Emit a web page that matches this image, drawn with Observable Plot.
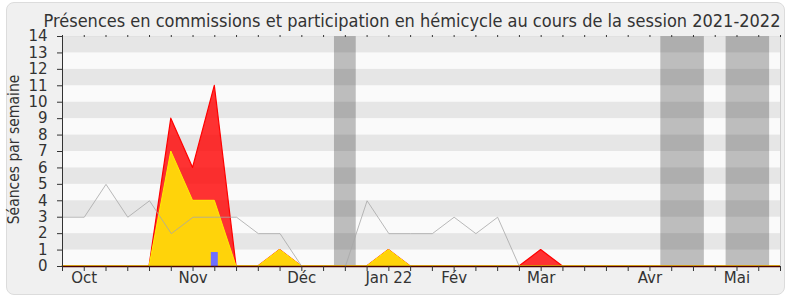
<!DOCTYPE html>
<html>
<head>
<meta charset="utf-8">
<script src="https://cdn.jsdelivr.net/npm/d3@7"></script>
<script src="https://cdn.jsdelivr.net/npm/@observablehq/plot@0.6"></script>
<style>
  html, body { margin: 0; padding: 0; background: #fff; }
  #wrap { position: relative; width: 790px; height: 300px; }
  #box { position: absolute; left: 6px; top: 2px; width: 777px; height: 291px;
         background: #f0f0f0; border: 1px solid #dcdcdc; border-radius: 8px; }
  #chart { position: absolute; left: 0; top: 0; }
  #chart svg { background: transparent !important; }
  #chart svg g[aria-label$="tick label"] { font-family: 'DejaVu Sans', sans-serif; font-stretch: normal; }
</style>
</head>
<body>
<div id="wrap"><div id="box"></div><div id="chart"></div></div>
<script>
// Week indices of the session (one tick per week)
const weeks = d3.range(0, 34);
// Month labels and the week index where they sit
const monthLabels = ["Oct", "Nov", "Déc", "Jan 22", "Fév", "Mar", "Avr", "Mai"];
const monthWeeks  = [1, 6, 11, 15, 18, 22, 27, 31];
// Series (per week)
const presenceCommission = [0,0,0,0,0,9,6,11,0,0,1,0,0,0,0,1,0,0,0,0,0,0,1,0,0,0,0,0,0,0,0,0,0,0];
const interventionCommission = [0,0,0,0,0,7,4,4,0,0,1,0,0,0,0,1,0,0,0,0,0,0,0,0,0,0,0,0,0,0,0,0,0,0];
const participationHemicycle = [3,3,5,3,4,2,3,3,3,2,2,0,0,0,4,2,2,2,3,2,3,0,0,0,0,0,0,0,0,0,0,0,0,0];
// Questions (blue bar)
const questionWeeks = [7];
const questionValues = [0.85];
// Vacation periods (first week, last week) -> grey bands
const vacationStart = [13, 28, 31];
const vacationEnd   = [13, 29, 32];
// y ticks and shaded horizontal bands
const yTicks = d3.range(0, 15);
const darkBands = [1, 3, 5, 7, 9, 11, 13];

const title = "Présences en commissions et participation en hémicycle au cours de la session 2021-2022";
const yLabel = "Séances par semaine";

const series = weeks.map((w, i) => ({
  week: w,
  red: presenceCommission[i],
  yellow: interventionCommission[i],
  gray: participationHemicycle[i]
}));
const questions = questionWeeks.map((w, i) => ({week: w, value: questionValues[i]}));
const vacations = vacationStart.map((s, i) => ({start: s, end: vacationEnd[i]}));
const labelMap = new Map(monthWeeks.map((w, i) => [w, monthLabels[i]]));

const font = "'DejaVu Sans Condensed', 'DejaVu Sans', sans-serif";

const chart = Plot.plot({
  width: 790,
  height: 300,
  marginLeft: 62,
  marginRight: 10,
  marginTop: 36,
  marginBottom: 34,
  style: {fontFamily: font, fontStretch: "condensed", color: "#333", background: "transparent", overflow: "visible"},
  x: {domain: [weeks[0], weeks[weeks.length - 1]]},
  y: {domain: [yTicks[0], yTicks[yTicks.length - 1]]},
  marks: [
    Plot.frame({fill: "#fafafa"}),
    Plot.rect(vacations, {x1: d => d.start - 0.5, x2: d => d.end + 0.5, fill: "#bdbdbd"}),
    Plot.rect(darkBands, {y1: d => d, y2: d => d + 1, fill: "#000", fillOpacity: 0.08}),
    Plot.areaY(series, {x: "week", y: "red", fill: "#ff0000", fillOpacity: 0.8, stroke: "#ff0000", strokeWidth: 1.2}),
    Plot.areaY(series, {x: "week", y: "yellow", fill: "#ffd30a", stroke: "#ffee00", strokeWidth: 1}),
    Plot.rect(questions, {x1: d => d.week - 0.16, x2: d => d.week + 0.16, y1: 0, y2: "value", fill: "#6e6eff"}),
    Plot.lineY(series, {x: "week", y: "gray", stroke: "#a8a8a8", strokeOpacity: 0.8, strokeWidth: 1}),
    Plot.ruleY([yTicks[0]], {stroke: "#4a0000", strokeWidth: 1.3}),
    Plot.ruleX([weeks[0]], {stroke: "#333"}),
    Plot.ruleX([weeks[weeks.length - 1]], {stroke: "#cfcfcf"}),
    Plot.axisY({ticks: yTicks, tickSize: 5, tickPadding: 10, fontSize: 15, label: null, tickFormat: d => String(d)}),
    Plot.axisX({ticks: weeks, tickSize: 5, tickPadding: 1, fontSize: 15, label: null, tickFormat: w => labelMap.get(w) ?? ""}),
    Plot.axisX({anchor: "top", ticks: weeks, tickSize: 2, label: null, tickFormat: () => ""}),
    Plot.text([title], {frameAnchor: "top", lineAnchor: "bottom", dy: -9.3, dx: -9.5, fontSize: 18, fill: "#333", text: d => d}),
    Plot.text([yLabel], {frameAnchor: "left", rotate: -90, textAnchor: "middle", dx: -48.7, dy: -2, fontSize: 15.5, fill: "#333", text: d => d})
  ]
});
document.getElementById("chart").appendChild(chart);
</script>
</body>
</html>
